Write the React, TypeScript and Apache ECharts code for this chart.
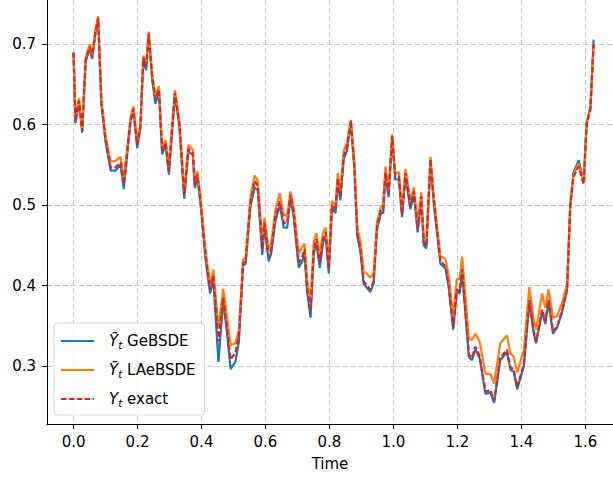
import React, { useEffect, useRef } from "react";
import * as echarts from "echarts";

const times = [
  0.000, 0.006, 0.017, 0.027, 0.038, 0.051, 0.058, 0.069, 0.077, 0.087,
  0.100, 0.116, 0.131, 0.147, 0.157, 0.178, 0.187, 0.199, 0.209, 0.218,
  0.227, 0.235, 0.246, 0.256, 0.267, 0.277, 0.288, 0.298, 0.317, 0.331,
  0.346, 0.359, 0.373, 0.379, 0.387, 0.397, 0.413, 0.427, 0.437, 0.453,
  0.468, 0.480, 0.491, 0.506, 0.517, 0.530, 0.538, 0.553, 0.566, 0.576,
  0.590, 0.597, 0.610, 0.618, 0.631, 0.645, 0.657, 0.668, 0.678, 0.688,
  0.704, 0.715, 0.722, 0.730, 0.741, 0.751, 0.759, 0.770, 0.780, 0.788,
  0.798, 0.808, 0.819, 0.826, 0.834, 0.845, 0.855, 0.867, 0.878, 0.887,
  0.897, 0.907, 0.928, 0.938, 0.949, 0.961, 0.968, 0.975, 0.985, 0.996,
  1.006, 1.017, 1.027, 1.038, 1.053, 1.064, 1.076, 1.087, 1.095, 1.103,
  1.116, 1.126, 1.147, 1.163, 1.173, 1.187, 1.198, 1.207, 1.215, 1.236,
  1.246, 1.256, 1.270, 1.288, 1.303, 1.315, 1.334, 1.355, 1.366, 1.376,
  1.387, 1.408, 1.425, 1.438, 1.446, 1.465, 1.475, 1.485, 1.499, 1.512,
  1.527, 1.543, 1.553, 1.563, 1.579, 1.595, 1.604, 1.616, 1.626,
];

const exactY = [
  0.690, 0.604, 0.630, 0.592, 0.681, 0.697, 0.684, 0.717, 0.733, 0.628,
  0.582, 0.547, 0.547, 0.553, 0.526, 0.605, 0.620, 0.575, 0.598, 0.683,
  0.673, 0.713, 0.659, 0.632, 0.644, 0.567, 0.578, 0.543, 0.640, 0.600,
  0.512, 0.570, 0.565, 0.525, 0.538, 0.505, 0.436, 0.395, 0.412, 0.330,
  0.385, 0.345, 0.308, 0.316, 0.338, 0.428, 0.430, 0.503, 0.530, 0.524,
  0.445, 0.478, 0.436, 0.445, 0.486, 0.505, 0.478, 0.478, 0.513, 0.491,
  0.428, 0.436, 0.445, 0.399, 0.368, 0.445, 0.458, 0.428, 0.458, 0.466,
  0.420, 0.500, 0.494, 0.533, 0.511, 0.562, 0.572, 0.605, 0.548, 0.465,
  0.445, 0.405, 0.395, 0.405, 0.474, 0.494, 0.494, 0.540, 0.515, 0.586,
  0.536, 0.536, 0.488, 0.540, 0.499, 0.517, 0.470, 0.511, 0.453, 0.449,
  0.557, 0.507, 0.430, 0.424, 0.400, 0.348, 0.395, 0.393, 0.420, 0.314,
  0.310, 0.324, 0.312, 0.268, 0.270, 0.257, 0.310, 0.320, 0.298, 0.296,
  0.274, 0.302, 0.382, 0.345, 0.330, 0.370, 0.355, 0.382, 0.343, 0.349,
  0.368, 0.395, 0.499, 0.535, 0.548, 0.526, 0.600, 0.619, 0.700,
];

const geY = [
  0.690, 0.602, 0.628, 0.590, 0.679, 0.695, 0.682, 0.715, 0.731, 0.625,
  0.579, 0.543, 0.543, 0.550, 0.520, 0.603, 0.618, 0.571, 0.596, 0.680,
  0.668, 0.711, 0.656, 0.626, 0.641, 0.563, 0.575, 0.538, 0.638, 0.597,
  0.508, 0.567, 0.562, 0.521, 0.535, 0.502, 0.432, 0.390, 0.408, 0.305,
  0.382, 0.340, 0.296, 0.305, 0.330, 0.425, 0.427, 0.498, 0.522, 0.518,
  0.438, 0.474, 0.430, 0.440, 0.480, 0.500, 0.472, 0.472, 0.508, 0.486,
  0.422, 0.430, 0.440, 0.393, 0.360, 0.440, 0.452, 0.422, 0.453, 0.462,
  0.415, 0.496, 0.490, 0.528, 0.506, 0.558, 0.568, 0.602, 0.545, 0.462,
  0.442, 0.402, 0.392, 0.402, 0.470, 0.490, 0.490, 0.536, 0.510, 0.582,
  0.532, 0.532, 0.485, 0.536, 0.495, 0.513, 0.466, 0.507, 0.450, 0.446,
  0.553, 0.503, 0.427, 0.421, 0.398, 0.345, 0.392, 0.390, 0.415, 0.311,
  0.307, 0.321, 0.309, 0.265, 0.267, 0.254, 0.307, 0.317, 0.295, 0.293,
  0.271, 0.300, 0.380, 0.342, 0.328, 0.367, 0.352, 0.380, 0.340, 0.348,
  0.366, 0.395, 0.500, 0.540, 0.556, 0.530, 0.602, 0.622, 0.706,
];

const laY = [
  0.688, 0.608, 0.633, 0.596, 0.684, 0.700, 0.686, 0.719, 0.735, 0.631,
  0.586, 0.554, 0.555, 0.560, 0.532, 0.609, 0.623, 0.579, 0.601, 0.686,
  0.676, 0.716, 0.663, 0.636, 0.648, 0.572, 0.581, 0.548, 0.643, 0.604,
  0.517, 0.575, 0.569, 0.530, 0.542, 0.509, 0.442, 0.402, 0.420, 0.348,
  0.396, 0.360, 0.326, 0.328, 0.345, 0.432, 0.435, 0.510, 0.537, 0.530,
  0.455, 0.484, 0.445, 0.452, 0.494, 0.515, 0.488, 0.487, 0.517, 0.498,
  0.440, 0.448, 0.452, 0.408, 0.380, 0.455, 0.465, 0.440, 0.466, 0.472,
  0.430, 0.505, 0.500, 0.540, 0.518, 0.568, 0.578, 0.606, 0.555, 0.472,
  0.455, 0.418, 0.410, 0.415, 0.480, 0.498, 0.500, 0.548, 0.520, 0.588,
  0.540, 0.541, 0.495, 0.545, 0.505, 0.522, 0.478, 0.516, 0.460, 0.455,
  0.560, 0.512, 0.437, 0.433, 0.412, 0.362, 0.408, 0.408, 0.436, 0.335,
  0.332, 0.340, 0.330, 0.290, 0.290, 0.278, 0.328, 0.338, 0.315, 0.312,
  0.292, 0.320, 0.398, 0.360, 0.345, 0.390, 0.372, 0.395, 0.360, 0.362,
  0.378, 0.402, 0.502, 0.538, 0.552, 0.528, 0.601, 0.620, 0.700,
];

const xTicks = [0, 0.2, 0.4, 0.6, 0.8, 1.0, 1.2, 1.4, 1.6];
const yTicks = [0.3, 0.4, 0.5, 0.6, 0.7];
const seriesNames = ["GeBSDE", "LAeBSDE", "exact"];
const legendLabels = [
  "{y|\u0232}{s|t} GeBSDE",
  "{y|\u0232}{s|t} LAeBSDE",
  "{y|Y}{s|t} exact",
];
const colors = ["#1f77b4", "#ff7f0e", "#d62728"];

export default function App() {
  const ref = useRef<HTMLDivElement>(null);
  useEffect(() => {
    if (!ref.current) return;
    const chart = echarts.init(ref.current, undefined, { renderer: "svg" });
    const font = "DejaVu Sans";
    const values = [geY, laY, exactY];
    chart.setOption({
      animation: false,
      backgroundColor: "#ffffff",
      textStyle: { fontFamily: font },
      grid: { left: 47, right: 0, top: 0, bottom: 53, containLabel: false },
      xAxis: {
        type: "value",
        min: -0.083,
        max: 1.6866,
        name: "Time",
        nameLocation: "middle",
        nameGap: 32,
        nameTextStyle: { fontFamily: font, fontSize: 15, color: "#000" },
        axisLine: { show: true, onZero: false, lineStyle: { color: "#000", width: 1 } },
        axisTick: { show: true, length: 5, customValues: xTicks, lineStyle: { color: "#000" } },
        axisLabel: {
          customValues: xTicks,
          margin: 10,
          fontFamily: font,
          fontSize: 15,
          color: "#000",
          formatter: (v: number) => v.toFixed(1),
        },
        splitLine: { show: true, lineStyle: { color: "#c8c8c8", type: [5, 3], width: 1 } },
      },
      yAxis: {
        type: "value",
        min: 0.2277,
        max: 0.7552,
        axisLine: { show: true, onZero: false, lineStyle: { color: "#000", width: 1 } },
        axisTick: { show: true, length: 5, customValues: yTicks, lineStyle: { color: "#000" } },
        axisLabel: {
          customValues: yTicks,
          margin: 11,
          fontFamily: font,
          fontSize: 15,
          color: "#000",
          formatter: (v: number) => v.toFixed(1),
        },
        splitLine: { show: true, lineStyle: { color: "#c8c8c8", type: [5, 3], width: 1 } },
      },
      legend: {
        orient: "vertical",
        left: 54,
        top: 323,
        padding: [9, 9, 7, 6],
        itemWidth: 33,
        itemHeight: 14,
        itemGap: 11,
        backgroundColor: "rgba(255,255,255,0.8)",
        borderColor: "#d6d6d6",
        borderWidth: 1,
        borderRadius: 4,
        itemStyle: { opacity: 0 },
        data: seriesNames,
        formatter: (name: string) => legendLabels[seriesNames.indexOf(name)],
        textStyle: {
          fontFamily: font,
          fontSize: 15,
          color: "#000",
          lineHeight: 18,
          padding: [0, 0, 0, 10],
          rich: {
            y: { fontFamily: font, fontSize: 15, fontStyle: "italic", color: "#000", lineHeight: 18 },
            s: { fontFamily: font, fontSize: 10.5, fontStyle: "italic", color: "#000", lineHeight: 10, verticalAlign: "bottom" },
          },
        },
      },
      series: seriesNames.map((name, i) => ({
        name,
        type: "line",
        data: times.map((t, j) => [t, values[i][j]]),
        showSymbol: false,
        symbol: "none",
        z: 2 + i,
        color: colors[i],
        lineStyle: {
          color: colors[i],
          width: 2.2,
          type: i === 2 ? [5.5, 2.4] : "solid",
        },
      })),
    });
    return () => chart.dispose();
  }, []);
  return (
    <div
      ref={ref}
      style={{ position: "fixed", left: 0, top: 0, width: 613, height: 477 }}
    />
  );
}
